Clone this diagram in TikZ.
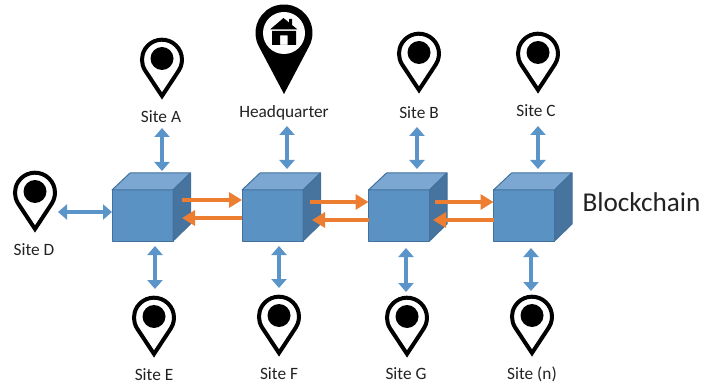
\documentclass[tikz,border=0pt]{standalone}
\usepackage{fontspec}
\setmainfont{Carlito}
\usetikzlibrary{arrows.meta,calc}
\definecolor{cubefront}{HTML}{5B92C4}
\definecolor{cubetop}{HTML}{7DA7D3}
\definecolor{cubeside}{HTML}{46749F}
\definecolor{cubeedge}{HTML}{41719C}
\definecolor{linkblue}{HTML}{5B94C8}
\definecolor{linkorange}{HTML}{ED7D31}
\definecolor{labelgrey}{HTML}{222222}
\tikzset{
  x=1pt,y=-1pt,
  sitelabel/.style={font=\fontsize{17.3}{20}\selectfont,text=labelgrey,inner sep=0pt},
  chainlabel/.style={font=\fontsize{27.2}{32}\selectfont,text=labelgrey,inner sep=0pt},
  cubeface/.style={draw=cubeedge,line width=1pt,line join=round},
  cubebox/.style={cubeface,fill=cubefront,minimum width=61pt,minimum height=51pt,inner sep=0pt,outer sep=0pt},
  bluelink/.style={draw=linkblue,line width=4.6pt,{Triangle[width=15pt,length=9pt]}-{Triangle[width=15pt,length=9pt]}},
  orangelink/.style={draw=linkorange,line width=4.6pt,-{Triangle[width=15pt,length=13pt]}},
  pics/sitepin/.style={code={
    \draw[black,line width=4pt,line join=miter,fill=white,x=1pt,y=1pt]
      (0,4) -- ++(16.8,25.5) arc[start angle=-32.7,end angle=212.7,radius=20pt] -- cycle;
    \fill[black,x=1pt,y=1pt] (0,41.5) circle[radius=11.5pt];
  }}
}
\newcommand{\blockcube}[3]{%
  \node[cubebox] (#1) at (#2,#3) {};
  \path[cubeface,fill=cubetop] (#1.north west) -- ++(18,-17) -- ++(60.5,0) -- (#1.north east) -- cycle;
  \path[cubeface,fill=cubeside] (#1.north east) -- ++(17.5,-17) -- ++(0,51) -- (#1.south east) -- cycle;
}
\begin{document}
\begin{tikzpicture}
\useasboundingbox (0,0) rectangle (703,387);
% cubes
\blockcube{cubeA}{142.5}{215.5}
\blockcube{cubeB}{272.5}{215.5}
\blockcube{cubeC}{399}{215.5}
\blockcube{cubeD}{524}{215.5}
% pins (placed by the tip)
\pic at (162,100) {sitepin};
\pic at (419,94) {sitepin};
\pic at (538,94) {sitepin};
\pic at (35,233) {sitepin};
\pic at (154,358) {sitepin};
\pic at (279,357) {sitepin};
\pic at (407,358) {sitepin};
\pic at (532,357) {sitepin};
% headquarter pin
\fill[black] (284,94) -- (258.8,46.3) arc[start angle=208,end angle=-28,radius=28.5pt] -- cycle;
\fill[white] (284,33) circle[radius=21pt];
\fill[black] (270,29.5) -- (283.5,18) -- (289,22.5) -- (289,19) -- (292,19) -- (292,25) -- (297.5,29.5) -- cycle;
\fill[black,even odd rule] (272,31) rectangle (296,45) (280,35.5) rectangle (287.5,45);
% labels
\node[sitelabel] (siteA) at (161,117) {Site A};
\node[sitelabel] (hq) at (284,113) {Headquarter};
\node[sitelabel] (siteB) at (419,113) {Site B};
\node[sitelabel] (siteC) at (536,111) {Site C};
\node[sitelabel] (siteD) at (34,250) {Site D};
\node[sitelabel] (siteE) at (154,375) {Site E};
\node[sitelabel] (siteF) at (279,374) {Site F};
\node[sitelabel] (siteG) at (406,374) {Site G};
\node[sitelabel] (siteN) at (532,374) {Site (n)};
\node[chainlabel] (chain) at (641.5,202) {Blockchain};
% free connector ends
\coordinate (aTop) at (162,128);   \coordinate (aCube) at (162,171);
\coordinate (hTop) at (287,126);   \coordinate (hCube) at (287,169);
\coordinate (bTop) at (417,127);   \coordinate (bCube) at (417,169);
\coordinate (cTop) at (538,126);   \coordinate (cCube) at (538,169);
\coordinate (dEnd) at (58,212);
\coordinate (eCube) at (155,246);  \coordinate (eEnd) at (155,289);
\coordinate (fCube) at (279,246);  \coordinate (fEnd) at (279,288);
\coordinate (gCube) at (406,248);  \coordinate (gEnd) at (406,292);
\coordinate (nCube) at (531,248);  \coordinate (nEnd) at (531,291);
% blue links
\draw[bluelink] (aTop) -- (aCube);
\draw[bluelink] (hTop) -- (hCube);
\draw[bluelink] (bTop) -- (bCube);
\draw[bluelink] (cTop) -- (cCube);
\draw[bluelink] (dEnd) -- (cubeA.west |- dEnd);
\draw[bluelink] (eCube) -- (eEnd);
\draw[bluelink] (fCube) -- (fEnd);
\draw[bluelink] (gCube) -- (gEnd);
\draw[bluelink] (nCube) -- (nEnd);
% orange links
\coordinate (ab1) at (182,200); \coordinate (ab2) at (182,218);
\coordinate (bc1) at (310,202); \coordinate (bc2) at (312,220);
\coordinate (cd1) at (435,202); \coordinate (cd2) at (433,220);
\draw[orangelink] (ab1) -- (cubeB.west |- ab1);
\draw[orangelink] (cubeB.west |- ab2) -- (ab2);
\draw[orangelink] (bc1) -- (cubeC.west |- bc1);
\draw[orangelink] (cubeC.west |- bc2) -- (bc2);
\draw[orangelink] (cd1) -- (cubeD.west |- cd1);
\draw[orangelink] (cubeD.west |- cd2) -- (cd2);
\end{tikzpicture}
\end{document}
